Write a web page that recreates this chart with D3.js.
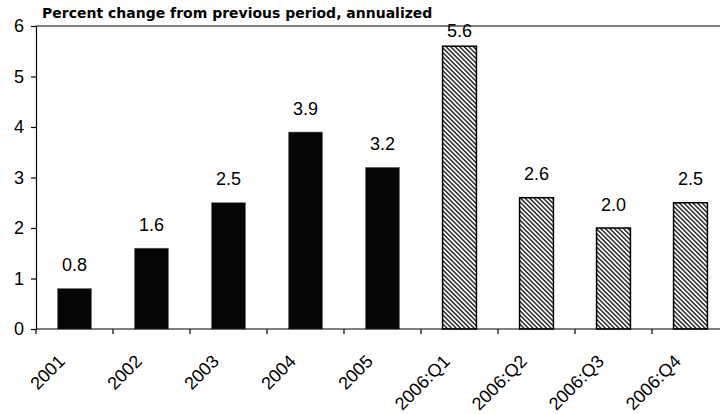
<!DOCTYPE html>
<html>
<head>
<meta charset="utf-8">
<script src="https://cdn.jsdelivr.net/npm/d3@7"></script>
<style>
  html, body { margin: 0; padding: 0; background: #fff; }
  svg { display: block; font-family: "Liberation Sans", Arial, sans-serif; }
</style>
</head>
<body>
<svg id="chart" width="720" height="414"></svg>
<script>
// ---- data ----
const annualLabels = ["2001", "2002", "2003", "2004", "2005"];
const annualValues = [0.8, 1.6, 2.5, 3.9, 3.2];
const quarterLabels = ["2006:Q1", "2006:Q2", "2006:Q3", "2006:Q4"];
const quarterValues = [5.6, 2.6, 2.0, 2.5];
const yTicks = [0, 1, 2, 3, 4, 5, 6];
const chartTitle = "Percent change from previous period, annualized";

(function () {
// ---- build ----
const rows = annualLabels.map((c, i) => ({ cat: c, value: annualValues[i], kind: "annual" }))
  .concat(quarterLabels.map((c, i) => ({ cat: c, value: quarterValues[i], kind: "quarter" })));
const categories = rows.map(d => d.cat);

const svg = d3.select("#chart");
const mLeft = 36, mRight = 729, mTop = 26, mBottom = 329;
const numFont = "'Liberation Sans', Arial, sans-serif";

const x = d3.scaleBand().domain(categories).range([mLeft, mRight]).padding(0);
const y = d3.scaleLinear().domain([0, d3.max(yTicks)]).range([mBottom, mTop]);
const bw = x.bandwidth();
const barW = bw * 0.44;

// hatch pattern
const defs = svg.append("defs");
const pat = defs.append("pattern")
  .attr("id", "hatch")
  .attr("patternUnits", "userSpaceOnUse")
  .attr("width", 3.2).attr("height", 3.2)
  .attr("patternTransform", "rotate(-45)");
pat.append("rect").attr("width", 3.2).attr("height", 3.2).attr("fill", "#fff");
pat.append("line").attr("x1", 0.8).attr("y1", 0).attr("x2", 0.8).attr("y2", 3.2)
  .attr("stroke", "#2a2a2a").attr("stroke-width", 1.5);

// top border line
svg.append("line")
  .attr("x1", mLeft).attr("x2", 720)
  .attr("y1", y(d3.max(yTicks))).attr("y2", y(d3.max(yTicks)))
  .attr("stroke", "#000").attr("stroke-width", 1);

// bars
svg.append("g").selectAll("rect").data(rows).join("rect")
  .attr("x", d => x(d.cat) + (bw - barW) / 2)
  .attr("width", barW)
  .attr("y", d => y(d.value))
  .attr("height", d => y(0) - y(d.value))
  .attr("fill", d => d.kind === "annual" ? "#050505" : "url(#hatch)")
  .attr("stroke", d => d.kind === "annual" ? "#666" : "#000")
  .attr("stroke-width", d => d.kind === "annual" ? 0.6 : 1.5);

// value labels
const fmt = d3.format(".1f");
svg.append("g").selectAll("text").data(rows).join("text")
  .attr("x", d => x(d.cat) + bw / 2)
  .attr("y", d => Math.max(y(d.value) - 17.5, y(d3.max(yTicks)) + 11))
  .attr("text-anchor", "middle")
  .attr("font-family", numFont)
  .attr("font-size", 18)
  .attr("fill", "#000")
  .text(d => fmt(d.value));

// y axis
const yAxis = svg.append("g")
  .attr("transform", `translate(${mLeft},0)`)
  .call(d3.axisLeft(y).tickValues(yTicks).tickFormat(d3.format("d")).tickSize(5).tickPadding(7));
yAxis.select(".domain").attr("stroke", "#000").attr("stroke-width", 1.2);
yAxis.selectAll(".tick line").attr("stroke", "#000").attr("stroke-width", 1.2);
yAxis.selectAll("text").attr("font-size", 18).attr("font-family", numFont).attr("fill", "#000");

// x axis line
svg.append("line")
  .attr("x1", mLeft).attr("x2", 720)
  .attr("y1", y(0)).attr("y2", y(0))
  .attr("stroke", "#000").attr("stroke-width", 1.2);
// x ticks at band boundaries
svg.append("g").selectAll("line").data(categories).join("line")
  .attr("x1", d => x(d)).attr("x2", d => x(d))
  .attr("y1", y(0)).attr("y2", y(0) + 5)
  .attr("stroke", "#000").attr("stroke-width", 1.2);

// x labels
svg.append("g").selectAll("text").data(categories).join("text")
  .attr("text-anchor", "end")
  .attr("font-family", numFont)
  .attr("font-size", 18)
  .attr("fill", "#000")
  .attr("transform", d => `translate(${x(d) + bw / 2 - 8.5},${y(0) + 33.5}) rotate(-45)`)
  .text(d => d);

// title
svg.append("text")
  .attr("x", 42).attr("y", 18)
  .attr("font-family", "'DejaVu Sans', Verdana, sans-serif")
  .attr("font-size", 14)
  .attr("font-weight", "bold")
  .attr("fill", "#000")
  .text(chartTitle);
})();
</script>
</body>
</html>
